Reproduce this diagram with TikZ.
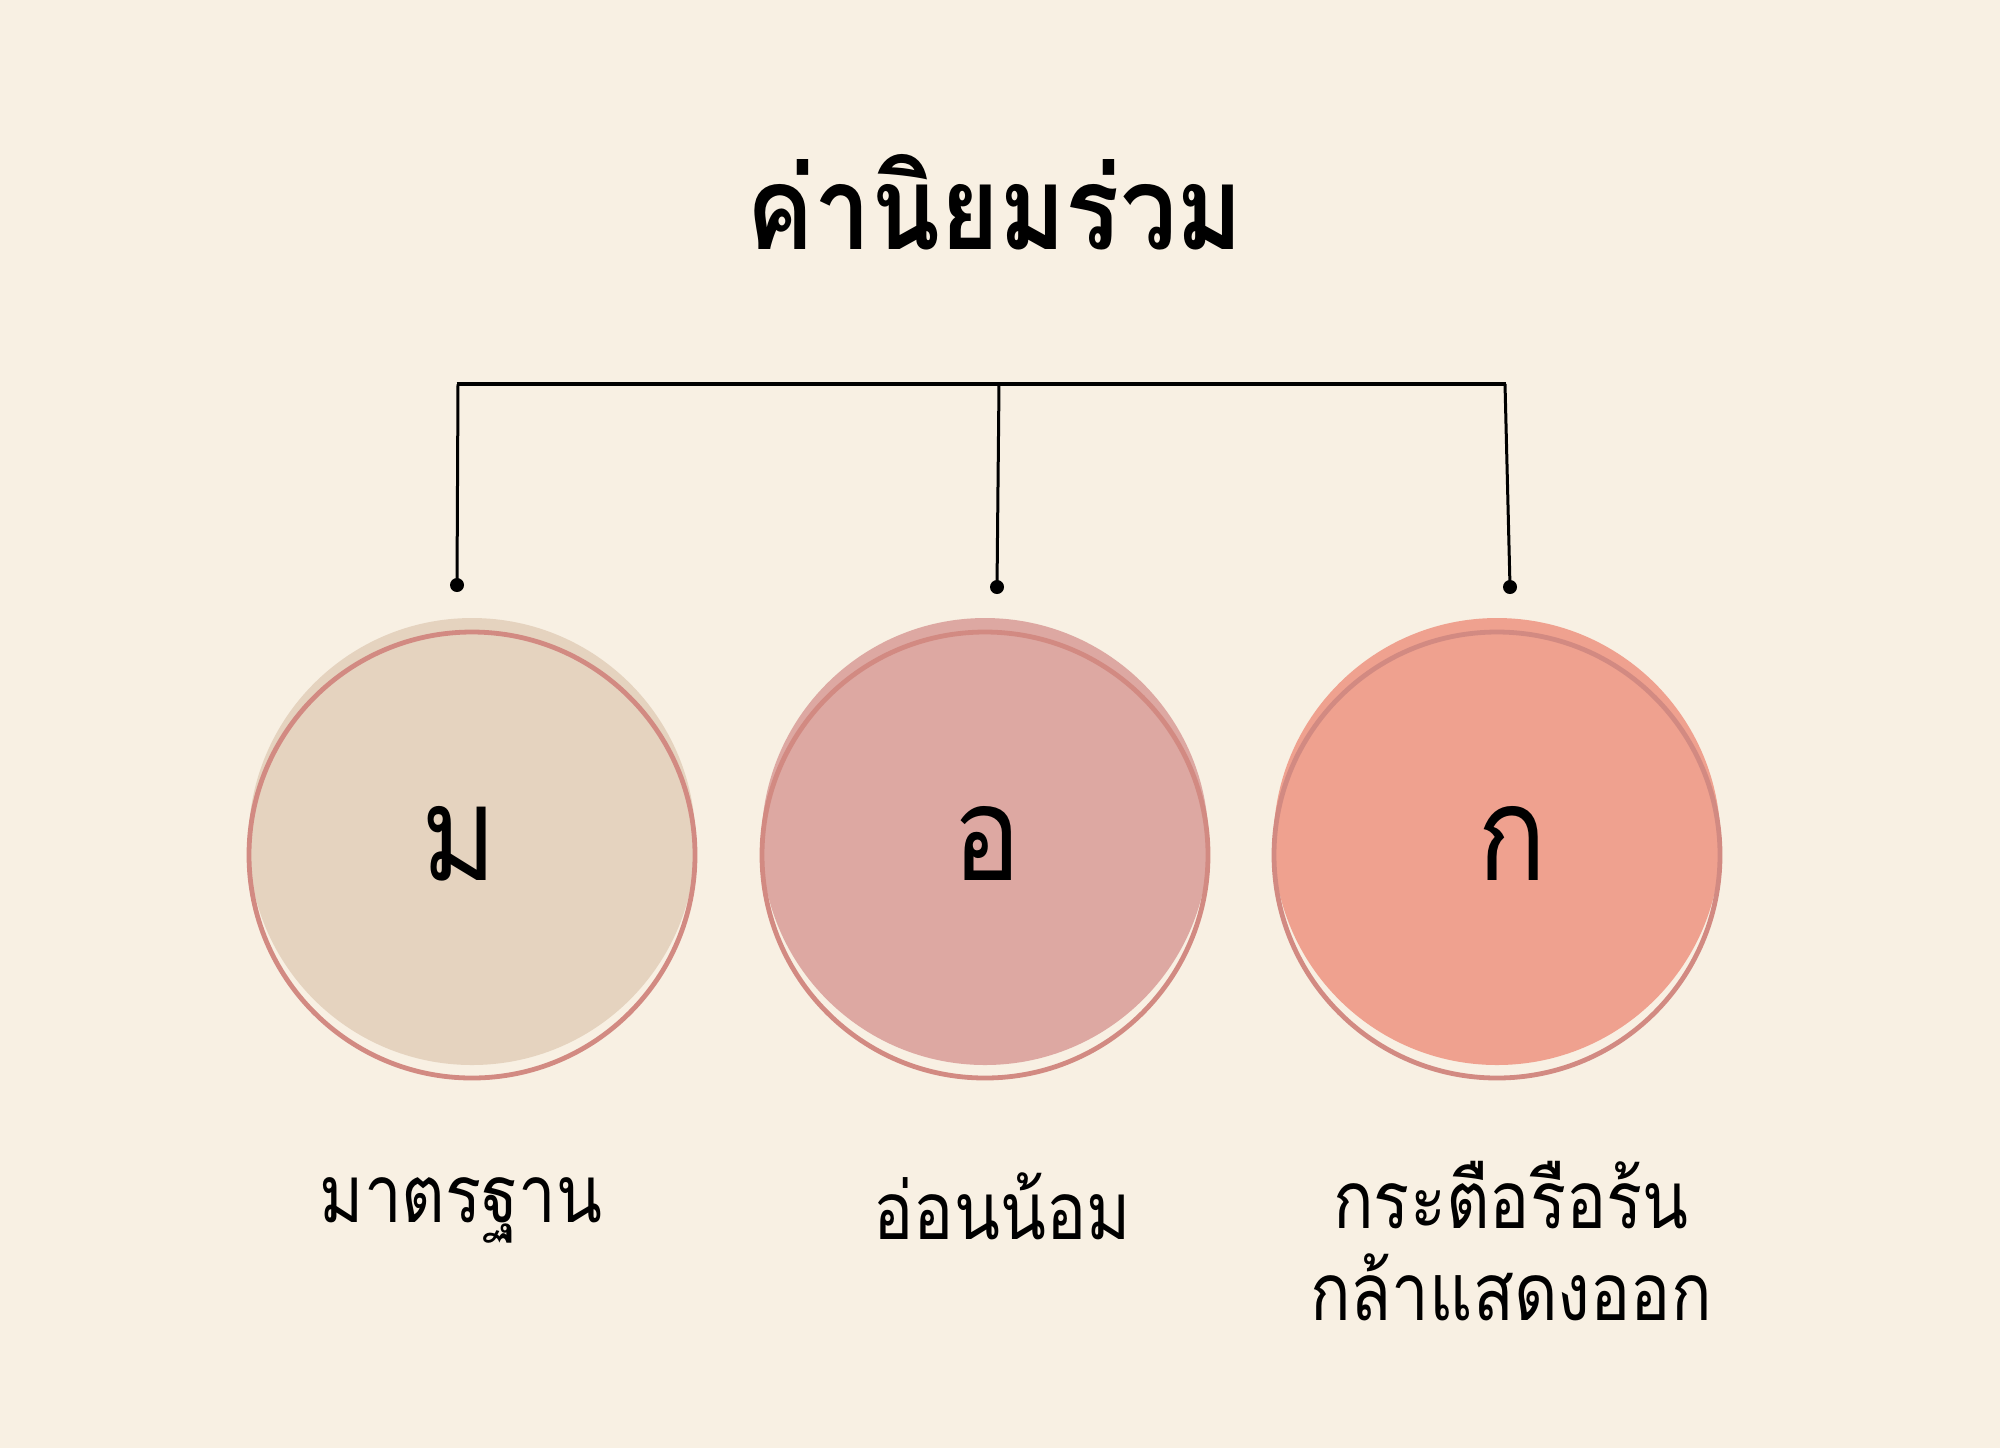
\documentclass[tikz,border=0pt]{standalone}
\usepackage{fontspec}
\newfontfamily\thaifont[Script=Thai, FakeStretch=0.84]{Loma}
\newfontfamily\thaititle[Script=Thai, FakeStretch=0.87]{Loma}
\newfontfamily\thailetter[Script=Thai, FakeStretch=0.87]{Loma}
\definecolor{bgc}{HTML}{F8F0E3}
\definecolor{fillA}{HTML}{E5D3BF}
\definecolor{fillB}{HTML}{DDA8A2}
\definecolor{fillC}{HTML}{EFA18F}
\definecolor{ringc}{HTML}{D28A82}
\tikzset{
  discfill/.style={circle, inner sep=0pt, minimum size=223.5pt, draw=none},
  ring/.style={circle, draw=ringc, line width=2.4pt, minimum size=223pt, inner sep=0pt},
  dotn/.style={circle, fill=black, inner sep=0pt, minimum size=7pt},
  barline/.style={line width=1.8pt, black},
  stemline/.style={line width=1.5pt, black},
  lettern/.style={font=\thailetter\fontsize{66}{70}\selectfont, anchor=base, inner sep=0pt},
  labeln/.style={font=\thaifont\fontsize{40}{46}\selectfont, anchor=base, inner sep=0pt},
  titlen/.style={font=\thaititle\bfseries\fontsize{58}{64}\selectfont, anchor=base, inner sep=0pt}
}
\begin{document}
\begin{tikzpicture}[x=0.5pt,y=-0.5pt]
\fill[bgc] (0,0) rectangle (2000,1448);
\useasboundingbox (0,0) rectangle (2000,1448);

\node[titlen] (title) at (995,249) {ค่านิยมร่วม};

% connectors
\coordinate (t1) at (458,384);
\coordinate (t2) at (999,384);
\coordinate (t3) at (1505,384);
\node[dotn] (d1) at (457,585) {};
\node[dotn] (d2) at (997,587) {};
\node[dotn] (d3) at (1510,587) {};
\draw[barline] ([xshift=-0.7pt]t1) -- ([xshift=0.7pt]t3);
\draw[stemline] (t1) -- (d1.center);
\draw[stemline] (t2) -- (d2.center);
\draw[stemline] (t3) -- (d3.center);

% circles
\node[discfill, fill=fillA] (f1) at (472,841.5) {};
\node[discfill, fill=fillB] (f2) at (985,841.5) {};
\node[discfill, fill=fillC] (f3) at (1497,841.5) {};
\node[ring] (c1) at (472,855) {};
\node[ring] (c2) at (985,855) {};
\node[ring] (c3) at (1497,855) {};

\node[lettern] (l1) at (459,880) {ม};
\node[lettern] (l2) at (987,880) {อ};
\node[lettern] (l3) at (1512,880) {ก};

% labels
\node[labeln] (n1) at (461,1222) {มาตรฐาน};
\node[labeln] (n2) at (1002,1239) {อ่อนน้อม};
\node[labeln] (n3a) at (1511,1228) {กระตือรือร้น};
\node[labeln] (n3b) at (1511,1320) {กล้าแสดงออก};
\end{tikzpicture}
\end{document}
